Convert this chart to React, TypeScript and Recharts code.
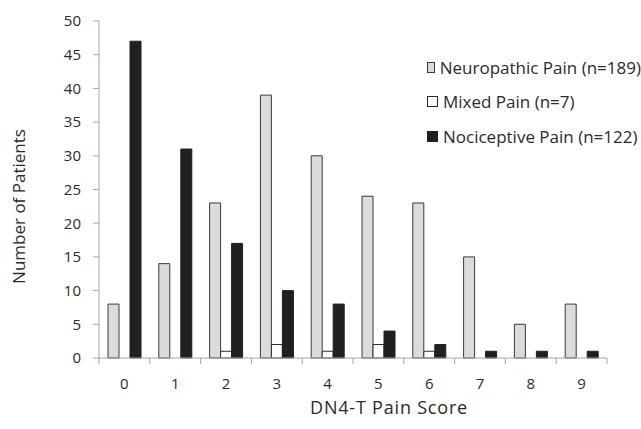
import React from 'react';
import { BarChart, Bar, XAxis, YAxis, Legend } from 'recharts';

const scores = ['0', '1', '2', '3', '4', '5', '6', '7', '8', '9'];
const neuropathic = [8, 14, 23, 39, 30, 24, 23, 15, 5, 8];
const mixed = [0, 0, 1, 2, 1, 2, 1, 0, 0, 0];
const nociceptive = [47, 31, 17, 10, 8, 4, 2, 1, 1, 1];
const yTicks = [0, 5, 10, 15, 20, 25, 30, 35, 40, 45, 50];
const boundaryTicks = [0, 1, 2, 3, 4, 5, 6, 7, 8, 9, 10];

const SERIES = [
  { key: 'neuropathic', name: 'Neuropathic Pain (n=189)', fill: '#dadbdd', stroke: '#3a3a3a' },
  { key: 'mixed', name: 'Mixed Pain (n=7)', fill: '#ffffff', stroke: '#2a2a2a' },
  { key: 'nociceptive', name: 'Nociceptive Pain (n=122)', fill: '#231f20', stroke: '#231f20' },
];

const data = scores.map((s, i) => ({
  score: s,
  pos: i + 0.5,
  neuropathic: neuropathic[i],
  mixed: mixed[i],
  nociceptive: nociceptive[i],
}));

const FONT = '"Open Sans", "Noto Sans", sans-serif';
const AXIS_GRAY = '#a6a6a6';
const TEXT = '#2b2b2b';

// legend drawn as a plain list, squares with outline like the original
function LegendList() {
  return (
    <div style={{ fontFamily: FONT, fontSize: 17, color: TEXT }}>
      {SERIES.map((s) => (
        <div key={s.key} style={{ display: 'flex', alignItems: 'center', height: 34.5 }}>
          <span
            style={{
              display: 'inline-block',
              width: 9,
              height: 9,
              background: s.fill,
              border: `1px solid ${s.stroke}`,
              marginRight: 5,
            }}
          />
          <span style={{ whiteSpace: 'nowrap' }}>{s.name}</span>
        </div>
      ))}
    </div>
  );
}

export default function App() {
  return (
    <div style={{ position: 'absolute', left: 0, top: 0, width: 641, height: 429, background: '#fff' }}>
      <BarChart
        width={641}
        height={429}
        data={data}
        margin={{ top: 21, right: 34, bottom: 0, left: 0 }}
        barSize={11}
        barGap={0}
      >
        {/* boundary tick marks, Excel style */}
        <XAxis
          xAxisId="a"
          type="number"
          dataKey="pos"
          domain={[0, 10]}
          ticks={boundaryTicks}
          height={1}
          stroke={AXIS_GRAY}
          tickSize={6}
          tickFormatter={() => ''}
        />
        <XAxis
          xAxisId="b"
          dataKey="score"
          axisLine={false}
          tickLine={false}
          tickSize={8}
          tickMargin={11}
          tick={{ fill: TEXT, fontSize: 15, fontFamily: FONT }}
          height={70}
          label={{
            value: 'DN4-T Pain Score',
            position: 'insideBottom',
            offset: 15,
            dx: 36,
            style: { fill: TEXT, fontSize: 18, letterSpacing: 0.8, fontFamily: FONT },
          }}
        />
        <YAxis
          domain={[0, 50]}
          ticks={yTicks}
          width={99}
          stroke={AXIS_GRAY}
          tickSize={6}
          tickMargin={12}
          tick={{ fill: TEXT, fontSize: 15, fontFamily: FONT }}
          label={{
            value: 'Number of Patients',
            angle: -90,
            position: 'insideLeft',
            offset: 19,
            dy: 17,
            style: { textAnchor: 'middle', fill: TEXT, fontSize: 17, fontFamily: FONT },
          }}
        />
        <Legend
          layout="vertical"
          align="center"
          verticalAlign="middle"
          content={<LegendList />}
          wrapperStyle={{ left: 427, top: 50, width: 214, height: 104 }}
        />
        {SERIES.map((s) => (
          <Bar
            key={s.key}
            xAxisId="b"
            dataKey={s.key}
            name={s.name}
            fill={s.fill}
            stroke={s.stroke}
            strokeWidth={1}
            isAnimationActive={false}
          />
        ))}
      </BarChart>
    </div>
  );
}
